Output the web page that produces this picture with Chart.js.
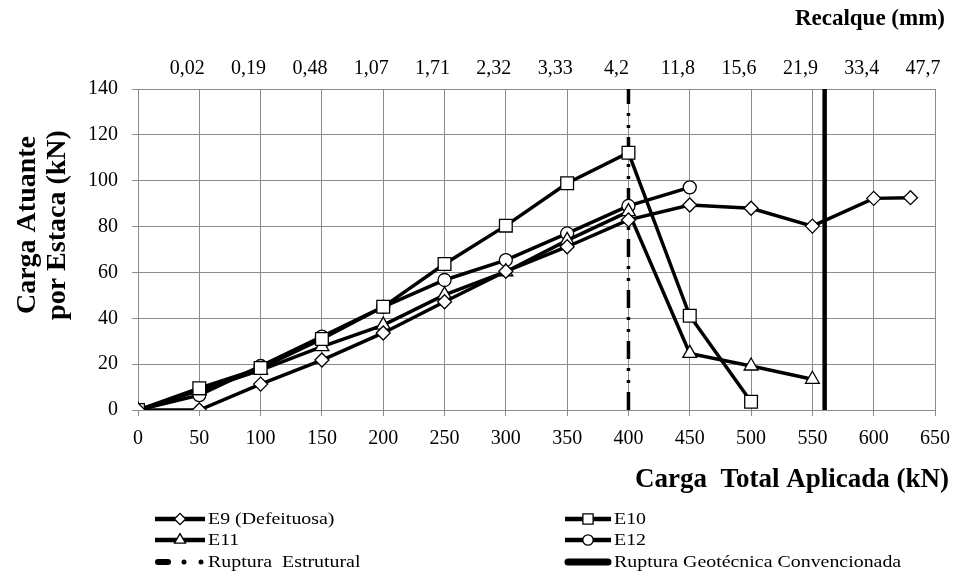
<!DOCTYPE html>
<html><head><meta charset="utf-8">
<script src="https://cdn.jsdelivr.net/npm/chart.js@4/dist/chart.umd.min.js"></script>
<style>html,body{margin:0;padding:0;background:#fff}#wrap{width:957px;height:576px;position:relative}</style>
</head><body><div id="wrap"><canvas id="c" width="957" height="576"></canvas></div>
<script>
// ---- data ----
const recalqueLoads = [50,100,150,200,250,300,350,400,450,500,550,600,650];
const recalqueLabels = ['0,02','0,19','0,48','1,07','1,71','2,32','3,33','4,2','11,8','15,6','21,9','33,4','47,7'];

const e9Load = [0,50,100,150,200,250,300,350,400,450,500,550,600,630];
const e9Vals = [0,0,11.3,21.8,33.6,47.2,60.5,71.2,82.9,89.4,88,80.2,92.3,92.6];

const e10Load = [0,50,100,150,200,250,300,350,400,450,500];
const e10Vals = [0,9.5,18.3,31,45,63.7,80.4,98.9,112.2,41.1,3.6];

const e11Load = [0,50,100,150,200,250,300,350,400,450,500,550];
const e11Vals = [0,8.5,17.4,27.6,37,50.2,60.3,74,86.5,24.7,19.2,13.4];

const e12Load = [0,50,100,150,200,250,300,350,400,450];
const e12Vals = [0,6.5,19.2,32,45,56.7,65.4,77,89,97.1];

const rupturaEstruturalLoad = 400;
const rupturaGeotecnicaLoad = 560;
const yRange = [0,140];

const seriesNames = ['E9 (Defeituosa)','E10','E11','E12','Ruptura  Estrutural','Ruptura Geotécnica Convencionada'];

// ---- chart ----
const SERIF = "'Liberation Serif','Times New Roman',serif";
Chart.defaults.font.family = SERIF;
Chart.defaults.color = '#000';

function pts(xs, ys){ return xs.map((x,i)=>({x:x, y:ys[i]})); }
function series(label, xs, ys, style, r){
  return {label, data: pts(xs,ys), borderColor:'#000', backgroundColor:'#fff', borderWidth:3.5,
    pointStyle:style, pointRadius:r, pointHoverRadius:r, pointBorderWidth:1.3, pointBorderColor:'#000',
    pointBackgroundColor:'#fff', tension:0, fill:false};
}
const datasets = [
  series(seriesNames[0], e9Load, e9Vals, 'rectRot', 7),
  series(seriesNames[1], e10Load, e10Vals, 'rect', 9),
  series(seriesNames[2], e11Load, e11Vals, 'triangle', 8),
  series(seriesNames[3], e12Load, e12Vals, 'circle', 6.5),
  {label: seriesNames[4], data: pts([rupturaEstruturalLoad,rupturaEstruturalLoad], yRange), borderColor:'#000',
   borderWidth:3.5, borderDash:[18,9,3,9,3,9], pointRadius:0, fill:false},
  {label: seriesNames[5], data: pts([rupturaGeotecnicaLoad,rupturaGeotecnicaLoad], yRange), borderColor:'#000',
   borderWidth:4.5, pointRadius:0, fill:false}
];

const decor = {
  id:'decor',
  afterDraw(chart){
    const ctx = chart.ctx;
    ctx.save();
    ctx.fillStyle = '#000';
    ctx.textBaseline = 'middle';
    // top title
    ctx.font = 'bold 23px ' + SERIF;
    ctx.textAlign = 'right';
    ctx.fillText('Recalque (mm)', 945, 19);
    // x title
    ctx.font = 'bold 27px ' + SERIF;
    ctx.fillText('Carga  Total Aplicada (kN)', 949, 480);
    // y title
    ctx.save();
    ctx.translate(0, 225);
    ctx.rotate(-Math.PI/2);
    ctx.textAlign = 'center';
    ctx.font = 'bold 28px ' + SERIF;
    ctx.fillText('Carga Atuante', 0, 28);
    ctx.fillText('por Estaca (kN)', 0, 58);
    ctx.restore();

    // legend
    const ds = chart.data.datasets;
    const slots = [[155,519,50],[565,519,46],[155,540,50],[565,540,46],[155,562,50],[565,562,46]];
    ctx.font = '17px ' + SERIF;
    ctx.textAlign = 'left';
    ds.forEach((d,i)=>{
      const [x0,y,w] = slots[i];
      ctx.strokeStyle = '#000';
      if (i < 4){
        ctx.lineWidth = 4.5; ctx.lineCap='butt';
        ctx.beginPath(); ctx.moveTo(x0,y); ctx.lineTo(x0+w,y); ctx.stroke();
        ctx.fillStyle = '#fff'; ctx.lineWidth = 1.3;
        Chart.helpers.drawPoint(ctx, {pointStyle:d.pointStyle, radius:d.pointRadius*0.8, borderWidth:1.3, rotation:0}, x0+w/2, y);
      } else if (i === 4){
        ctx.lineCap='round';
        ctx.lineWidth = 6;
        ctx.beginPath(); ctx.moveTo(x0+3,y); ctx.lineTo(x0+13,y); ctx.stroke();
        ctx.fillStyle='#000';
        ctx.beginPath(); ctx.arc(x0+29,y,2.5,0,Math.PI*2); ctx.fill();
        ctx.beginPath(); ctx.arc(x0+46,y,2.5,0,Math.PI*2); ctx.fill();
      } else {
        ctx.lineCap='round';
        ctx.lineWidth = 7;
        ctx.beginPath(); ctx.moveTo(x0+3,y); ctx.lineTo(x0+w-3,y); ctx.stroke();
      }
      ctx.fillStyle = '#000';
      ctx.save();
      ctx.translate(x0+w+3, y+1);
      ctx.scale(1.17, 1);
      ctx.fillText(d.label, 0, 0);
      ctx.restore();
    });
    ctx.restore();
  }
};

function noPad(s){ s.paddingLeft = 0; s.paddingRight = 0; }

new Chart(document.getElementById('c'), {
  type:'line',
  data:{datasets},
  options:{
    responsive:false, animation:false, events:[],
    layout:{padding:{left:0,right:22,top:0,bottom:126}},
    plugins:{legend:{display:false}, tooltip:{enabled:false}},
    scales:{
      x:{type:'linear', position:'bottom', min:0, max:650,
         ticks:{stepSize:50, font:{size:20}, color:'#000', padding:11, maxRotation:0, autoSkip:false},
         grid:{color:'#8c8c8c', lineWidth:1, tickLength:6, drawTicks:true},
         border:{color:'#8c8c8c'},
         afterFit(s){ s.height = 40; noPad(s); }},
      x2:{type:'linear', position:'top', min:0, max:650,
         ticks:{stepSize:50, font:{size:20}, color:'#000', padding:8, labelOffset:-12, maxRotation:0, autoSkip:false,
           callback:(v)=>{ const k = recalqueLoads.indexOf(v); return k<0 ? '' : recalqueLabels[k]; }},
         grid:{display:false, drawTicks:false},
         border:{display:false},
         afterFit(s){ s.height = 89; noPad(s); }},
      y:{type:'linear', min:0, max:140,
         ticks:{stepSize:20, font:{size:20}, color:'#000', padding:14},
         grid:{color:'#8c8c8c', lineWidth:1, tickLength:6, drawTicks:true},
         border:{color:'#8c8c8c'},
         afterFit(s){ s.width = 138; }}
    }
  },
  plugins:[decor]
});
</script>
</body></html>
